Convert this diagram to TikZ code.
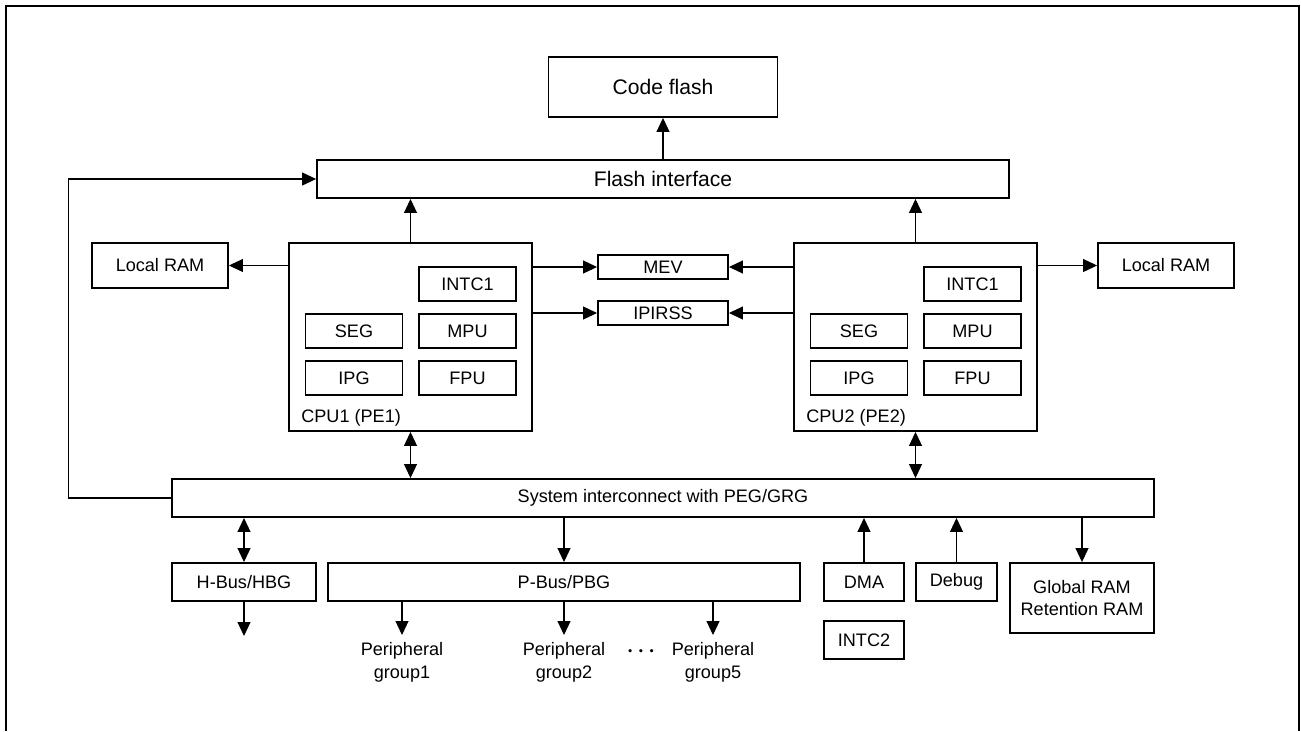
\documentclass[tikz,border=0pt]{standalone}
\usepackage{fontspec}
\usepackage{bm}
\setmainfont{Liberation Sans}
\usetikzlibrary{arrows.meta}

\begin{document}
\begin{tikzpicture}[
  x=0.02cm, y=-0.02cm,
  >={Triangle[length=0.28cm, width=0.26cm]},
  block/.style={draw, line width=1.1pt, inner sep=0pt, font=\fontsize{10.3}{13}\selectfont},
  unit/.style={draw, line width=0.6pt, inner sep=0pt, minimum width=1.94cm,
    minimum height=0.68cm, font=\fontsize{10.3}{13}\selectfont},
  txt/.style={inner sep=0pt, font=\fontsize{10.3}{13}\selectfont},
  link/.style={line width=0.6pt}
]
  \useasboundingbox (0,0) rectangle (1301,731);

  % Outer frame
  \draw[line width=1.6pt] (6,731) -- (6,6) -- (1299,6) -- (1299,731);

  % Flash
  \node[block, minimum width=4.58cm, minimum height=1.2cm,
    font=\fontsize{12}{14}\selectfont] (codeflash) at (663,87) {Code flash};
  \node[block, minimum width=13.84cm, minimum height=0.76cm,
    font=\fontsize{12}{14}\selectfont] (flashif) at (663,179) {Flash interface};

  % CPUs
  \foreach \n/\cx in {1/410.5, 2/915.5} {
    \node[block, minimum width=4.86cm, minimum height=3.76cm] (cpu\n) at (\cx,337) {};
    \node[unit] (intc\n) at ({\cx+57},284) {INTC1};
    \node[unit] (seg\n) at ({\cx-56.5},331) {SEG};
    \node[unit] (mpu\n) at ({\cx+57},331) {MPU};
    \node[unit] (ipg\n) at ({\cx-56.5},378) {IPG};
    \node[unit] (fpu\n) at ({\cx+57},378) {FPU};
    \node[txt, anchor=west] (cpuname\n) at ({\cx-109.5},418) {CPU\n{} (PE\n)};
  }

  % Local RAMs, MEV, IPIRSS
  \node[block, minimum width=2.72cm, minimum height=0.9cm] (lram1) at (160,265.5) {Local RAM};
  \node[block, minimum width=2.72cm, minimum height=0.9cm] (lram2) at (1166,265.5) {Local RAM};
  \node[block, minimum width=2.6cm, minimum height=0.48cm] (mev) at (663,267) {MEV};
  \node[block, minimum width=2.6cm, minimum height=0.48cm] (ipirss) at (663,313) {IPIRSS};

  % Interconnect and buses
  \node[block, minimum width=19.64cm, minimum height=0.76cm] (sysic) at (663,498)
    {System interconnect with PEG/GRG};
  \node[block, minimum width=2.88cm, minimum height=0.76cm] (hbus) at (244,582) {H-Bus/HBG};
  \node[block, minimum width=9.44cm, minimum height=0.76cm] (pbus) at (564,582) {P-Bus/PBG};
  \node[block, minimum width=1.6cm, minimum height=0.76cm] (dma) at (864,582) {DMA};
  \node[block, minimum width=1.62cm, minimum height=0.76cm] (debug) at (956.5,582) {Debug};
  \node[block, minimum width=2.88cm, minimum height=1.4cm, align=center,
    font=\fontsize{10.3}{12}\selectfont] (gram) at (1082,598) {Global RAM\\Retention RAM};
  \node[block, minimum width=1.6cm, minimum height=0.76cm] (intc2) at (864,640) {INTC2};

  % Peripheral groups
  \node[txt, anchor=north, align=center, inner ysep=4pt] (pgrp1) at (402,635) {Peripheral\\group1};
  \node[txt, anchor=north, align=center, inner ysep=4pt] (pgrp2) at (564,635) {Peripheral\\group2};
  \node[txt, anchor=north, align=center, inner ysep=4pt] (pgrp5) at (713,635) {Peripheral\\group5};
  \node[txt, font=\fontsize{12}{14}\selectfont] (dots) at (641,651) {$\bm{\cdots}$};

  % Connectors, upper part
  \draw[->, link] (flashif.north) -- (codeflash.south);
  \draw[->, link] (cpu1.north) -- (cpu1.north |- flashif.south);
  \draw[->, link] (cpu2.north) -- (cpu2.north |- flashif.south);
  \draw[->, link] (cpu1.west |- lram1) -- (lram1.east);
  \draw[->, link] (cpu2.east |- lram2) -- (lram2.west);
  \draw[->, link] (cpu1.east |- mev) -- (mev.west);
  \draw[->, link] (cpu2.west |- mev) -- (mev.east);
  \draw[->, link] (cpu1.east |- ipirss) -- (ipirss.west);
  \draw[->, link] (cpu2.west |- ipirss) -- (ipirss.east);
  \draw[<->, link] (cpu1.south) -- (cpu1.south |- sysic.north);
  \draw[<->, link] (cpu2.south) -- (cpu2.south |- sysic.north);
  \draw[->, link] (sysic.west) -- ++(-103,0) |- (flashif.west);

  % Connectors, lower part
  \coordinate (hbusout) at (244,636);
  \draw[<->, link] (hbus.north |- sysic.south) -- (hbus.north);
  \draw[->, link] (hbus.south) -- (hbusout);
  \draw[->, link] (pbus.north |- sysic.south) -- (pbus.north);
  \draw[->, link] (dma.north) -- (dma.north |- sysic.south);
  \draw[->, link] (debug.north) -- (debug.north |- sysic.south);
  \draw[->, link] (gram.north |- sysic.south) -- (gram.north);
  \draw[->, link] (pbus.south -| pgrp1.north) -- (pgrp1.north);
  \draw[->, link] (pbus.south -| pgrp2.north) -- (pgrp2.north);
  \draw[->, link] (pbus.south -| pgrp5.north) -- (pgrp5.north);
\end{tikzpicture}
\end{document}
